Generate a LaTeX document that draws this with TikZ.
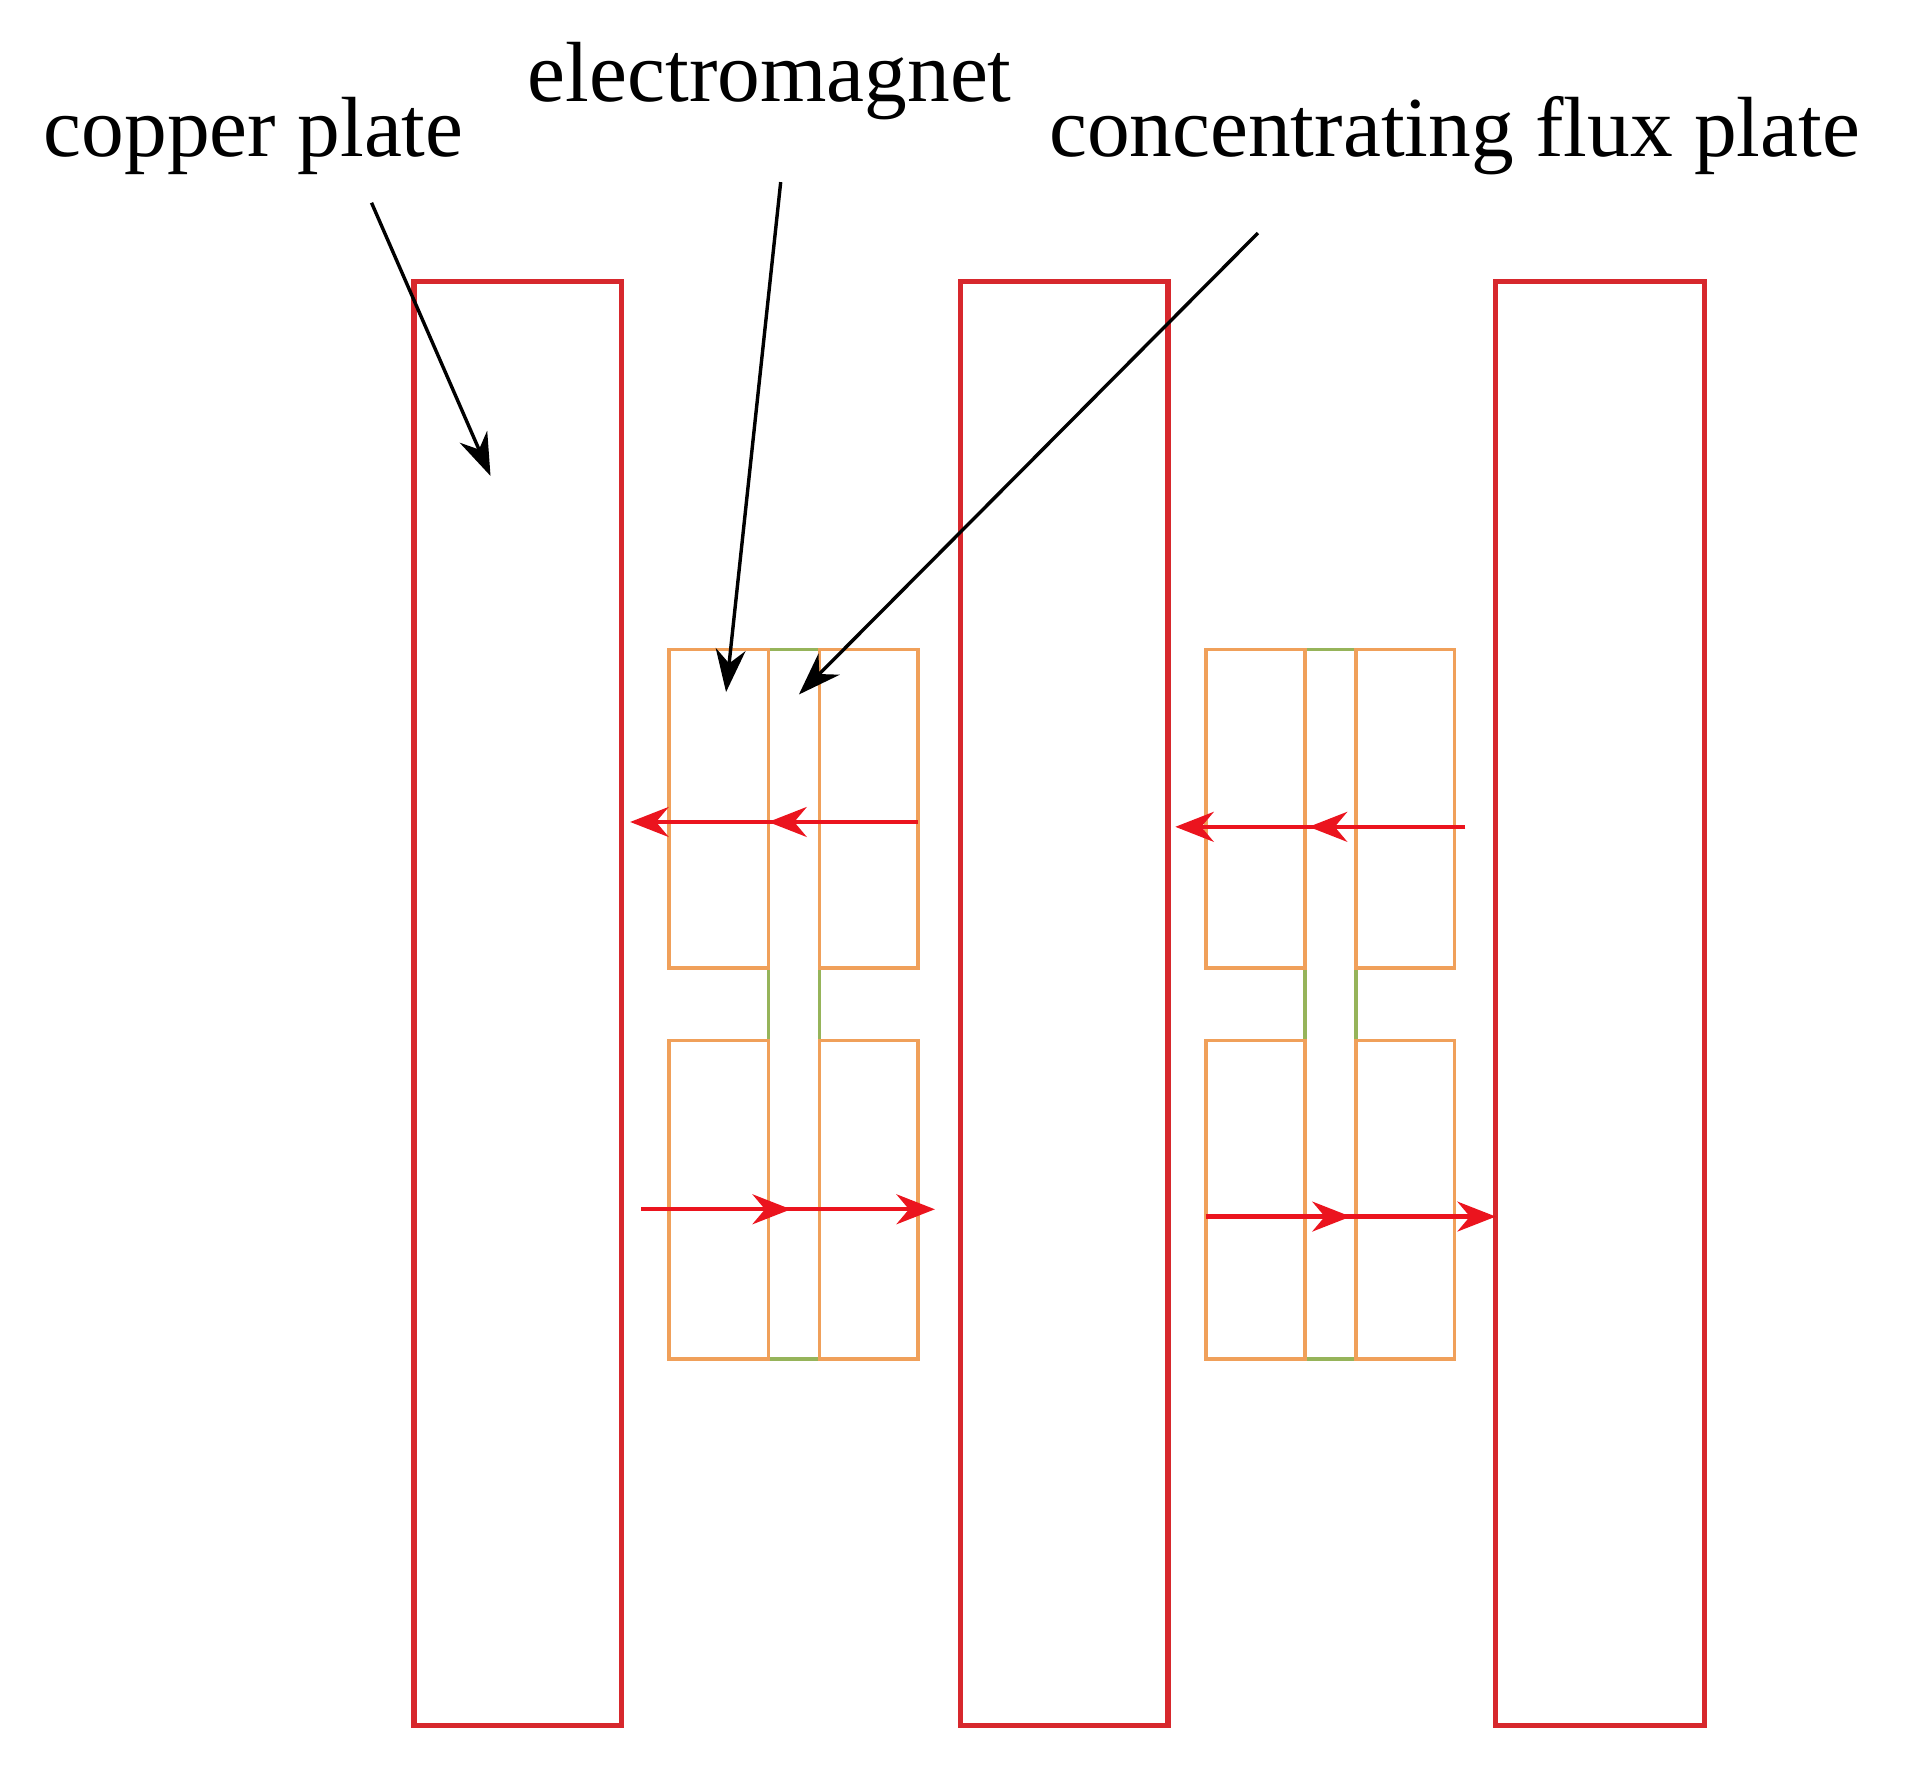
\documentclass[tikz,border=0pt]{standalone}
\usepackage{fontspec}
\setmainfont{Liberation Serif}
\usetikzlibrary{arrows.meta,decorations.markings}
\definecolor{cu}{RGB}{215,40,45}
\definecolor{em}{RGB}{240,160,90}
\definecolor{fx}{RGB}{150,180,90}
\definecolor{ar}{RGB}{235,20,30}
\tikzset{
 plate/.style={draw=cu,line width=1.2pt},
 coil/.style={draw=em,line width=0.9pt},
 flux/.style={draw=fx,line width=0.9pt},
 lbl/.style={font=\fontsize{20pt}{24pt}\selectfont,inner sep=0pt},
 pointer/.style={-{Stealth[length=10pt,width=7pt]},line width=0.8pt},
 field/.style={ar,line width=1pt,-{Stealth[length=9pt,width=7pt]},
   postaction={decorate},decoration={markings,mark=at position #1 with {\arrow{Stealth[length=9pt,width=7pt]}}}},
}
\begin{document}
\begin{tikzpicture}[x=0.01cm,y=-0.01cm]
\useasboundingbox (0,0) rectangle (1569,1461);
% copper plates
\draw[plate] (341,232) rectangle (512,1421);
\draw[plate] (791,232) rectangle (962,1421);
\draw[plate] (1232,232) rectangle (1404,1421);
% electromagnets
\foreach \x in {0,442}{
 \begin{scope}[xshift=\x*0.01cm]
 \draw[flux] (633,535) rectangle (675,1119);
 \draw[coil] (551,535) rectangle (633,797);
 \draw[coil] (675,535) rectangle (756,797);
 \draw[coil] (551,857) rectangle (633,1119);
 \draw[coil] (675,857) rectangle (756,1119);
 \end{scope}}
% field arrows
\coordinate (a1) at (756,677); \coordinate (a2) at (519,677);
\coordinate (b1) at (528,996); \coordinate (b2) at (770,996);
\coordinate (c1) at (1207,681); \coordinate (c2) at (968,681);
\coordinate (d1) at (993,1002); \coordinate (d2) at (1232,1002);
\draw[field=0.52] (a1) -- (a2);
\draw[field=0.51] (b1) -- (b2);
\draw[field=0.54] (c1) -- (c2);
\draw[field=0.5] (d1) -- (d2);
% labels
\node[lbl] (t1) at (209,112) {copper plate};
\node[lbl] (t2) at (634,67) {electromagnet};
\node[lbl] (t3) at (1198,112) {concentrating flux plate};
\coordinate (p1) at (306,167); \coordinate (q1) at (404,392);
\coordinate (p2) at (643,150); \coordinate (q2) at (598,570);
\coordinate (p3) at (1036,192); \coordinate (q3) at (658,572);
\draw[pointer] (p1) -- (q1);
\draw[pointer] (p2) -- (q2);
\draw[pointer] (p3) -- (q3);
\end{tikzpicture}
\end{document}
